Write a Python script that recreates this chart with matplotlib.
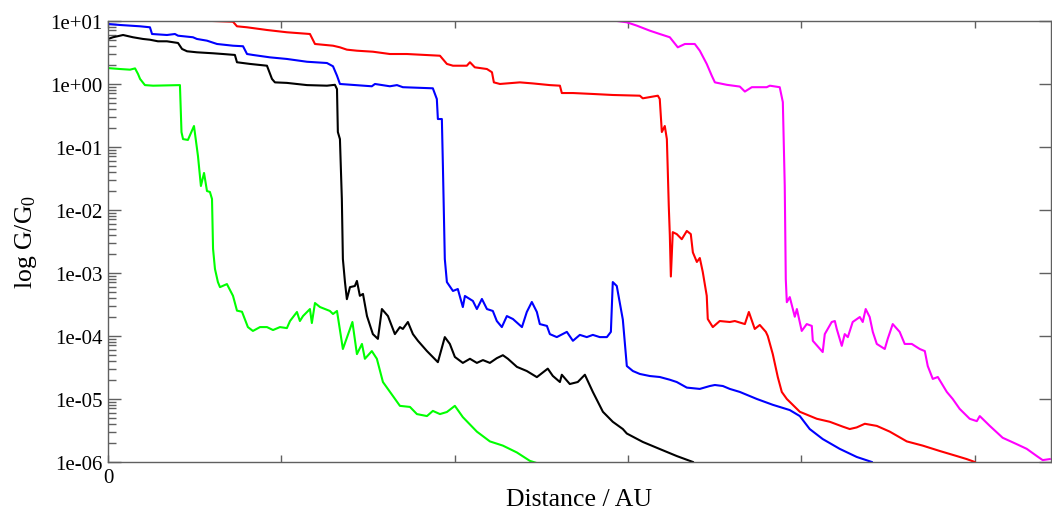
import matplotlib
matplotlib.use("Agg")
import matplotlib.pyplot as plt
from matplotlib.ticker import FixedLocator, FixedFormatter, LogLocator, NullFormatter

plt.rcParams["font.family"] = ["Liberation Serif", "DejaVu Serif"]
plt.rcParams["mathtext.fontset"] = "custom"
plt.rcParams["mathtext.rm"] = "Liberation Serif"
plt.rcParams["mathtext.it"] = "Liberation Serif:italic"

# Distance (AU) and conductance G/G0 for each trace
green_x = [0, 0.69, 1.27, 1.56, 1.73, 1.85, 2.13, 2.60, 4.15, 4.24, 4.33, 4.61, 4.96, 5.19,
           5.36, 5.54, 5.71, 5.88, 6.00, 6.06, 6.17, 6.34, 6.46, 6.86, 7.21, 7.44, 7.73,
           8.07, 8.36, 8.77, 9.17, 9.52, 9.92, 10.32, 10.50, 10.90, 11.07, 11.25, 11.65,
           11.76, 11.94, 12.23, 12.80, 12.98, 13.21, 13.55, 13.96, 14.10, 14.36, 14.65,
           14.82, 15.22, 15.51, 15.86, 16.44, 16.84, 17.42, 17.82, 18.40, 18.74, 19.15,
           19.55, 20.01, 20.47, 21.28, 22.03, 22.78, 23.59, 24.34, 24.74]
green_g = [1.77, 1.71, 1.67, 1.75, 1.43, 1.19, 0.95, 0.93, 0.95, 0.17, 0.132, 0.128, 0.213,
           0.0711, 0.0238, 0.0383, 0.0198, 0.0191, 0.0148, 0.0024, 1.15e-3, 7.1e-4, 5.9e-4,
           6.6e-4, 4.3e-4, 2.5e-4, 2.4e-4, 1.37e-4, 1.19e-4, 1.37e-4, 1.37e-4, 1.23e-4,
           1.37e-4, 1.32e-4, 1.71e-4, 2.38e-4, 1.71e-4, 2.05e-4, 2.65e-4, 1.59e-4, 3.30e-4,
           2.85e-4, 2.47e-4, 2.21e-4, 2.47e-4, 6.15e-5, 1.28e-4, 1.65e-4, 5.1e-5, 7.4e-5,
           4.3e-5, 5.7e-5, 4.3e-5, 1.84e-5, 1.10e-5, 7.7e-6, 7.4e-6, 5.7e-6, 5.3e-6, 6.4e-6,
           5.7e-6, 6.15e-6, 7.7e-6, 5.1e-6, 3.0e-6, 2.1e-6, 1.8e-6, 1.4e-6, 1.03e-6, 9.5e-7]

black_x = [0, 0.29, 0.87, 1.44, 2.02, 2.42, 2.88, 3.40, 4.04, 4.27, 4.56, 5.13, 6.06, 6.63,
           7.32, 7.44, 8.19, 9.17, 9.46, 9.63, 10.32, 11.48, 12.63, 13.09, 13.21, 13.26,
           13.38, 13.49, 13.55, 13.67, 13.78, 13.96, 14.24, 14.36, 14.53, 14.71, 14.94,
           15.28, 15.57, 15.80, 16.15, 16.55, 16.84, 17.01, 17.30, 17.59, 17.88, 18.40,
           19.03, 19.43, 19.72, 20.01, 20.47, 20.88, 21.28, 21.63, 22.03, 22.43, 22.78,
           23.07, 23.59, 24.16, 24.74, 25.37, 25.66, 26.07, 26.18, 26.64, 27.10, 27.51,
           27.97, 28.55, 29.12, 29.70, 29.93, 30.85, 31.83, 32.81, 33.74]
black_g = [5.13, 5.46, 5.93, 5.46, 5.13, 4.99, 4.71, 4.71, 4.43, 3.56, 3.27, 3.15, 3.04, 2.96,
           2.86, 2.19, 2.06, 1.93, 1.19, 1.05, 1.03, 0.95, 0.93, 0.96, 0.82, 0.171, 0.132,
           0.0148, 1.65e-3, 7.1e-4, 3.8e-4, 5.9e-4, 6.15e-4, 7.4e-4, 4.3e-4, 4.6e-4, 2.05e-4,
           1.06e-4, 8.9e-5, 2.65e-4, 2.05e-4, 1.06e-4, 1.37e-4, 1.28e-4, 1.65e-4, 1.06e-4,
           8.3e-5, 5.7e-5, 3.8e-5, 9.5e-5, 7.4e-5, 4.6e-5, 3.7e-5, 4.3e-5, 3.7e-5, 4.1e-5,
           3.7e-5, 4.4e-5, 4.9e-5, 4.3e-5, 3.2e-5, 2.75e-5, 2.2e-5, 3.0e-5, 2.3e-5, 1.84e-5,
           2.4e-5, 1.71e-5, 1.84e-5, 2.4e-5, 1.28e-5, 6.2e-6, 4.3e-6, 3.3e-6, 2.8e-6, 2.06e-6,
           1.59e-6, 1.23e-6, 9.9e-7]

blue_x = [0, 0.69, 1.85, 2.42, 2.54, 3.40, 3.86, 4.04, 4.90, 5.13, 5.71, 6.29, 7.21, 7.79,
          8.02, 8.36, 9.34, 10.32, 11.48, 12.63, 12.98, 13.21, 13.38, 15.22, 15.40, 16.26,
          16.67, 17.01, 18.74, 18.97, 19.03, 19.26, 19.32, 19.43, 19.55, 19.90, 20.18, 20.47,
          20.59, 21.05, 21.28, 21.57, 21.86, 22.20, 22.43, 22.72, 23.01, 23.36, 23.88, 24.16,
          24.45, 24.74, 24.91, 25.32, 25.49, 25.89, 26.47, 26.82, 27.22, 27.62, 27.97, 28.37,
          28.78, 29.01, 29.12, 29.35, 29.70, 29.93, 30.28, 30.68, 31.26, 31.83, 32.41, 32.81,
          33.39, 34.14, 34.72, 35.01, 35.47, 35.87, 36.45, 37.43, 38.35, 39.33, 39.91, 40.48,
          41.23, 42.21, 43.19, 44.06]
blue_g = [8.87, 8.55, 8.15, 7.86, 6.15, 5.93, 6.15, 5.78, 5.46, 5.13, 4.82, 4.27, 4.01, 3.93,
          2.96, 2.86, 2.62, 2.47, 2.23, 2.13, 1.89, 1.34, 0.99, 0.91, 0.99, 0.91, 0.95, 0.88,
          0.845, 0.571, 0.275, 0.275, 0.0494, 1.65e-3, 7.1e-4, 5.13e-4, 5.51e-4, 2.85e-4,
          4.27e-4, 3.56e-4, 2.65e-4, 3.83e-4, 2.65e-4, 2.47e-4, 1.71e-4, 1.37e-4, 2.05e-4,
          1.84e-4, 1.37e-4, 2.38e-4, 3.43e-4, 2.38e-4, 1.53e-4, 1.43e-4, 1.06e-4, 9.5e-5,
          1.15e-4, 8.3e-5, 1.03e-4, 9.5e-5, 1.03e-4, 9.5e-5, 9.5e-5, 1.15e-4, 7.1e-4, 6.15e-4,
          1.8e-4, 3.3e-5, 2.75e-5, 2.47e-5, 2.29e-5, 2.21e-5, 2.0e-5, 1.84e-5, 1.5e-5, 1.43e-5,
          1.59e-5, 1.65e-5, 1.59e-5, 1.43e-5, 1.28e-5, 9.9e-6, 8.0e-6, 6.6e-6, 5.3e-6, 3.3e-6,
          2.29e-6, 1.6e-6, 1.19e-6, 9.9e-7]

red_x = [5.31, 5.59, 7.21, 7.44, 8.02, 9.17, 10.32, 11.65, 11.94, 12.98, 13.38, 13.78, 14.36,
         15.28, 16.26, 17.24, 19.15, 19.55, 19.90, 20.70, 20.88, 21.16, 21.86, 22.15, 22.26,
         22.61, 23.76, 24.51, 25.49, 26.07, 26.18, 26.82, 27.97, 29.12, 30.68, 30.85, 31.72,
         31.83, 31.95, 32.12, 32.24, 32.29, 32.35, 32.41, 32.47, 32.58, 32.81, 33.10, 33.39,
         33.62, 33.74, 33.97, 34.14, 34.31, 34.54, 34.60, 34.89, 35.29, 35.87, 36.16, 36.74,
         36.97, 37.31, 37.60, 37.95, 38.06, 38.35, 38.64, 38.87, 39.16, 39.91, 40.89, 41.64,
         42.39, 42.79, 43.19, 43.66, 44.35, 45.10, 46.08, 47.00, 47.98, 48.96, 49.54, 50.00]
red_g = [13.0, 10.0, 9.64, 8.15, 7.86, 7.12, 6.55, 6.15, 4.27, 4.01, 3.78, 3.47, 3.34, 3.22,
         2.96, 2.96, 2.78, 2.06, 1.93, 1.93, 2.19, 1.82, 1.71, 1.52, 1.05, 0.99, 1.05, 1.01,
         0.95, 0.93, 0.711, 0.711, 0.687, 0.662, 0.645, 0.586, 0.645, 0.571, 0.171, 0.213,
         0.132, 0.0443, 0.0115, 4.0e-3, 8.7e-4, 4.4e-3, 4.1e-3, 3.4e-3, 4.6e-3, 4.1e-3,
         2.1e-3, 1.48e-3, 1.71e-3, 1.03e-3, 4.3e-4, 1.84e-4, 1.37e-4, 1.71e-4, 1.65e-4,
         1.71e-4, 1.53e-4, 2.38e-4, 1.28e-4, 1.48e-4, 1.15e-4, 9.9e-5, 5.1e-5, 2.2e-5,
         1.28e-5, 9.9e-6, 6.2e-6, 4.8e-6, 4.3e-6, 3.6e-6, 3.3e-6, 3.5e-6, 4.0e-6, 3.7e-6,
         3.0e-6, 2.1e-6, 1.8e-6, 1.48e-6, 1.23e-6, 1.10e-6, 9.9e-7]

magenta_x = [28.95, 29.24, 29.93, 30.51, 31.26, 31.83, 32.41, 32.87, 33.28, 33.85, 34.14,
             34.54, 34.83, 35.01, 35.70, 36.45, 36.74, 37.14, 38.00, 38.18, 38.75, 38.93,
             39.04, 39.10, 39.16, 39.33, 39.62, 39.74, 40.02, 40.31, 40.60, 40.66, 41.23,
             41.35, 41.75, 41.93, 42.04, 42.33, 42.50, 42.68, 42.96, 43.37, 43.54, 43.71,
             43.94, 44.12, 44.35, 44.81, 44.98, 45.27, 45.67, 45.96, 46.37, 46.54, 46.83,
             47.12, 47.29, 47.58, 47.87, 48.39, 48.73, 49.13, 49.71, 50.12, 50.29, 50.87,
             51.61, 52.42, 53.00, 53.58, 53.92, 54.33]
magenta_g = [11.5, 10.0, 9.44, 8.34, 6.94, 6.15, 5.46, 3.78, 4.27, 4.27, 3.34, 2.06, 1.34,
             1.05, 0.96, 0.90, 0.75, 0.88, 0.88, 0.93, 0.88, 0.51, 0.024, 7.9e-4, 3.4e-4,
             4.1e-4, 2.0e-4, 2.65e-4, 1.19e-4, 1.53e-4, 1.43e-4, 8.3e-5, 5.5e-5, 1.06e-4,
             1.65e-4, 1.71e-4, 1.28e-4, 6.9e-5, 1.06e-4, 9.5e-5, 1.65e-4, 1.98e-4, 1.65e-4,
             2.65e-4, 1.98e-4, 1.15e-4, 7.4e-5, 6.15e-5, 8.9e-5, 1.53e-4, 1.15e-4, 7.4e-5,
             7.4e-5, 6.9e-5, 6.15e-5, 5.7e-5, 3.3e-5, 2.06e-5, 2.21e-5, 1.28e-5, 9.9e-6,
             6.9e-6, 4.8e-6, 4.4e-6, 5.3e-6, 3.7e-6, 2.4e-6, 1.9e-6, 1.6e-6, 1.23e-6, 1.06e-6,
             1.10e-6]

x_ticks = [0, 10, 20, 30, 40, 50]
x_tick_labels = ["0", "", "", "", "", ""]
y_ticks = [1e-6, 1e-5, 1e-4, 1e-3, 1e-2, 1e-1, 1e0, 1e1]
y_tick_labels = ["1e-06", "1e-05", "1e-04", "1e-03", "1e-02", "1e-01", "1e+00", "1e+01"]

series = [
    (green_x, green_g, "#00ff00"),
    (black_x, black_g, "#000000"),
    (blue_x, blue_g, "#0000ff"),
    (red_x, red_g, "#ff0000"),
    (magenta_x, magenta_g, "#ff00ff"),
]

fig = plt.figure(figsize=(10.52, 5.10), dpi=100)
ax = fig.add_axes([108 / 1052, 47.3 / 510, 943 / 1052, 441 / 510])

for xs, gs, col in series:
    ax.plot(xs, gs, color=col, lw=1.5, solid_joinstyle="round")

ax.set_yscale("log")
ax.set_xlim(0, 54.4)
ax.set_ylim(1e-6, 1e1)

ax.xaxis.set_major_locator(FixedLocator(x_ticks))
ax.xaxis.set_major_formatter(FixedFormatter(x_tick_labels))
ax.yaxis.set_major_locator(FixedLocator(y_ticks))
ax.yaxis.set_major_formatter(FixedFormatter(y_tick_labels))
ax.yaxis.set_minor_locator(LogLocator(base=10, subs=range(2, 10), numticks=20))
ax.yaxis.set_minor_formatter(NullFormatter())

axis_col = "#606060"
for sp in ax.spines.values():
    sp.set_color(axis_col)
    sp.set_linewidth(1.0)

ax.tick_params(axis="x", which="major", direction="in", top=True, bottom=True,
               length=5, width=1, color=axis_col, labelsize=15, pad=4.5)
ax.tick_params(axis="y", which="major", direction="in", left=True, right=True,
               length=9, width=1, color=axis_col, labelsize=15, pad=4)
ax.tick_params(axis="y", which="minor", direction="in", left=True, right=False,
               length=5.5, width=1, color=axis_col)

ax.set_xlabel("Distance / AU", fontsize=18.5, labelpad=1)
ax.set_ylabel(r"log G/G$_{\mathrm{0}}$", fontsize=18.5, labelpad=8)

fig.savefig("out.png", dpi=100)
